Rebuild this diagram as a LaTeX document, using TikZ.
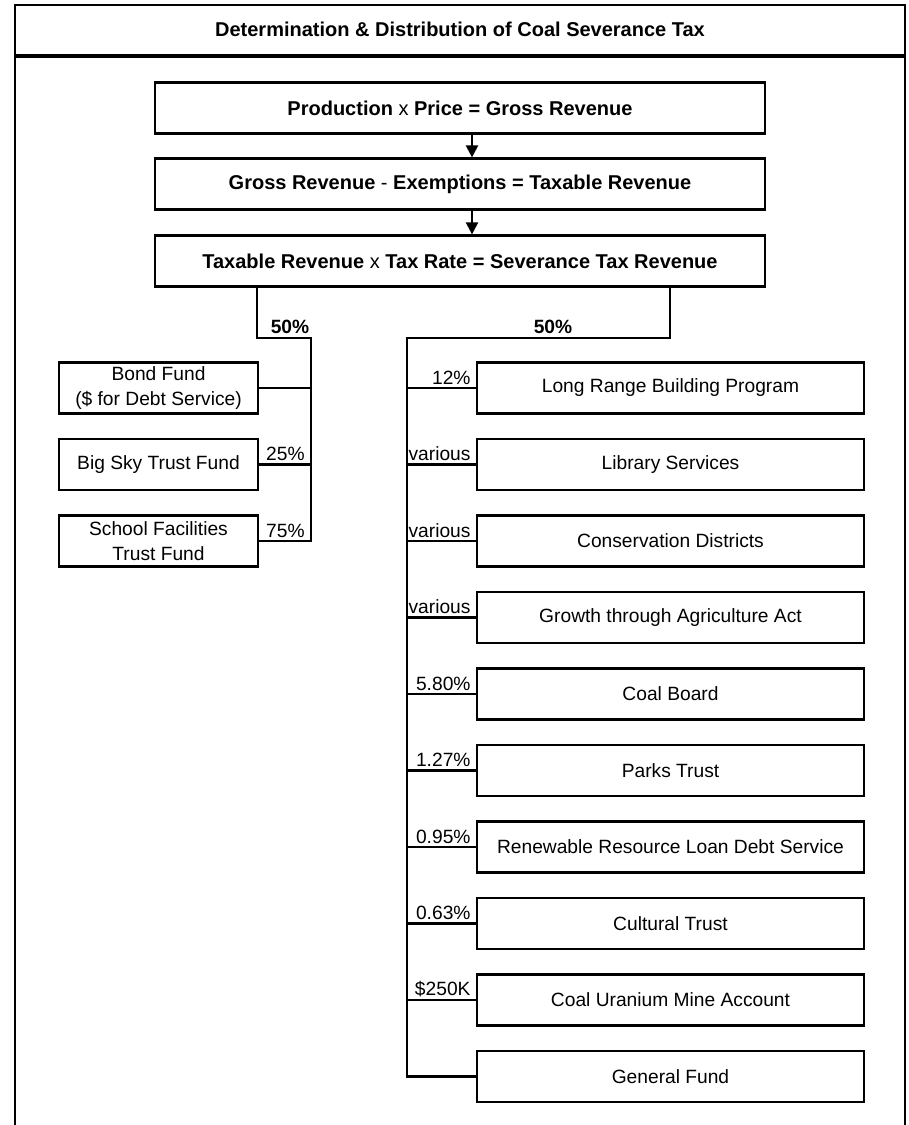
\documentclass[tikz,border=0pt]{standalone}
\usepackage{fontspec}
\setmainfont{Liberation Sans}
\usepackage{tikz}
\usetikzlibrary{
    arrows.meta,
    calc
}

\tikzset{
    wire/.style={line width=1.1pt},
    flowbox/.style={draw, line width=1.1pt, minimum width=305pt, minimum height=25.5pt,
        inner sep=1pt, font=\fontsize{10}{12}\selectfont},
    fundbox/.style={draw, line width=1.1pt, minimum height=25.5pt, inner sep=1pt,
        align=center, font=\fontsize{9.6}{12.5}\selectfont},
    leftfund/.style={fundbox, minimum width=99.5pt},
    rightfund/.style={fundbox, minimum width=193.5pt},
    share/.style={font=\fontsize{9.6}{11}\selectfont, inner sep=1pt, anchor=south east}
}

\begin{document}
\begin{tikzpicture}[x=0.5pt,y=-0.5pt]
\useasboundingbox (0,0) rectangle (909,1125);

% Frame and title
\draw[wire] (15,1125) -- (15,5) -- (905,5) -- (905,1125);
\draw[line width=1.6pt] (15,56) -- (905,56);
\node[font=\fontsize{10}{12}\selectfont\bfseries] (title) at (460,29)
    {Determination \& Distribution of Coal Severance Tax};

% Revenue steps
\node[flowbox] (prod) at (460,108) {\textbf{Production} x \textbf{Price = Gross Revenue}};
\node[flowbox] (gross) at (460,184) {\textbf{Gross Revenue} - \textbf{Exemptions = Taxable Revenue}};
\node[flowbox] (tax) at (460,261) {\textbf{Taxable Revenue} x \textbf{Tax Rate = Severance Tax Revenue}};
\draw[wire,-{Triangle[length=6pt,width=6pt]}] ([xshift=6pt]prod.south) -- ([xshift=6pt]gross.north);
\draw[wire,-{Triangle[length=6pt,width=6pt]}] ([xshift=6pt]gross.south) -- ([xshift=6pt]tax.north);

% Split points
\coordinate (lsplit) at (257,338);
\coordinate (ltrunk) at (311,338);
\coordinate (rsplit) at (670,338);
\coordinate (rtrunk) at (407,338);
\node[font=\fontsize{9.6}{11}\selectfont\bfseries, inner sep=1pt, anchor=south] (lhalf) at (290,336) {50\%};
\node[font=\fontsize{9.6}{11}\selectfont\bfseries, inner sep=1pt, anchor=south] (rhalf) at (553,336) {50\%};

% Left half
\node[leftfund] (bond) at (158.5,388) {Bond Fund\\(\$ for Debt Service)};
\node[leftfund] (bigsky) at (158.5,464.5) {Big Sky Trust Fund};
\node[leftfund] (school) at (158.5,541) {School Facilities\\Trust Fund};
\draw[wire] (tax.south -| lsplit) -- (lsplit) -- (ltrunk) -- (ltrunk |- school.east) -- (school.east);
\draw[wire] (bond.east) -- (bond.east -| ltrunk);
\draw[wire] (bigsky.east) -- (bigsky.east -| ltrunk);
\node[share] (p25) at ([xshift=-2pt,yshift=0.5pt]bigsky.east -| ltrunk) {25\%};
\node[share] (p75) at ([xshift=-2pt,yshift=0.5pt]school.east -| ltrunk) {75\%};

% Right half
\node[rightfund] (lrbp) at (670.5,388) {Long Range Building Program};
\node[rightfund] (library) at (670.5,464.5) {Library Services};
\node[rightfund] (conserv) at (670.5,541) {Conservation Districts};
\node[rightfund] (growth) at (670.5,617.5) {Growth through Agriculture Act};
\node[rightfund] (coalboard) at (670.5,694) {Coal Board};
\node[rightfund] (parks) at (670.5,770.5) {Parks Trust};
\node[rightfund] (renew) at (670.5,847) {Renewable Resource Loan Debt Service};
\node[rightfund] (cultural) at (670.5,923.5) {Cultural Trust};
\node[rightfund] (uranium) at (670.5,1000) {Coal Uranium Mine Account};
\node[rightfund] (general) at (670.5,1076.5) {General Fund};
\draw[wire] (tax.south -| rsplit) -- (rsplit) -- (rtrunk) -- (rtrunk |- general.west) -- (general.west);
\draw[wire] (rtrunk |- lrbp.west) -- (lrbp.west);
\draw[wire] (rtrunk |- library.west) -- (library.west);
\draw[wire] (rtrunk |- conserv.west) -- (conserv.west);
\draw[wire] (rtrunk |- growth.west) -- (growth.west);
\draw[wire] (rtrunk |- coalboard.west) -- (coalboard.west);
\draw[wire] (rtrunk |- parks.west) -- (parks.west);
\draw[wire] (rtrunk |- renew.west) -- (renew.west);
\draw[wire] (rtrunk |- cultural.west) -- (cultural.west);
\draw[wire] (rtrunk |- uranium.west) -- (uranium.west);
\node[share] (p12) at ([xshift=-1.5pt,yshift=0.5pt]lrbp.west) {12\%};
\node[share] (v1) at ([xshift=-1.5pt,yshift=0.5pt]library.west) {various};
\node[share] (v2) at ([xshift=-1.5pt,yshift=0.5pt]conserv.west) {various};
\node[share] (v3) at ([xshift=-1.5pt,yshift=0.5pt]growth.west) {various};
\node[share] (p580) at ([xshift=-1.5pt,yshift=0.5pt]coalboard.west) {5.80\%};
\node[share] (p127) at ([xshift=-1.5pt,yshift=0.5pt]parks.west) {1.27\%};
\node[share] (p095) at ([xshift=-1.5pt,yshift=0.5pt]renew.west) {0.95\%};
\node[share] (p063) at ([xshift=-1.5pt,yshift=0.5pt]cultural.west) {0.63\%};
\node[share] (k250) at ([xshift=-1.5pt,yshift=0.5pt]uranium.west) {\$250K};

\end{tikzpicture}
\end{document}
